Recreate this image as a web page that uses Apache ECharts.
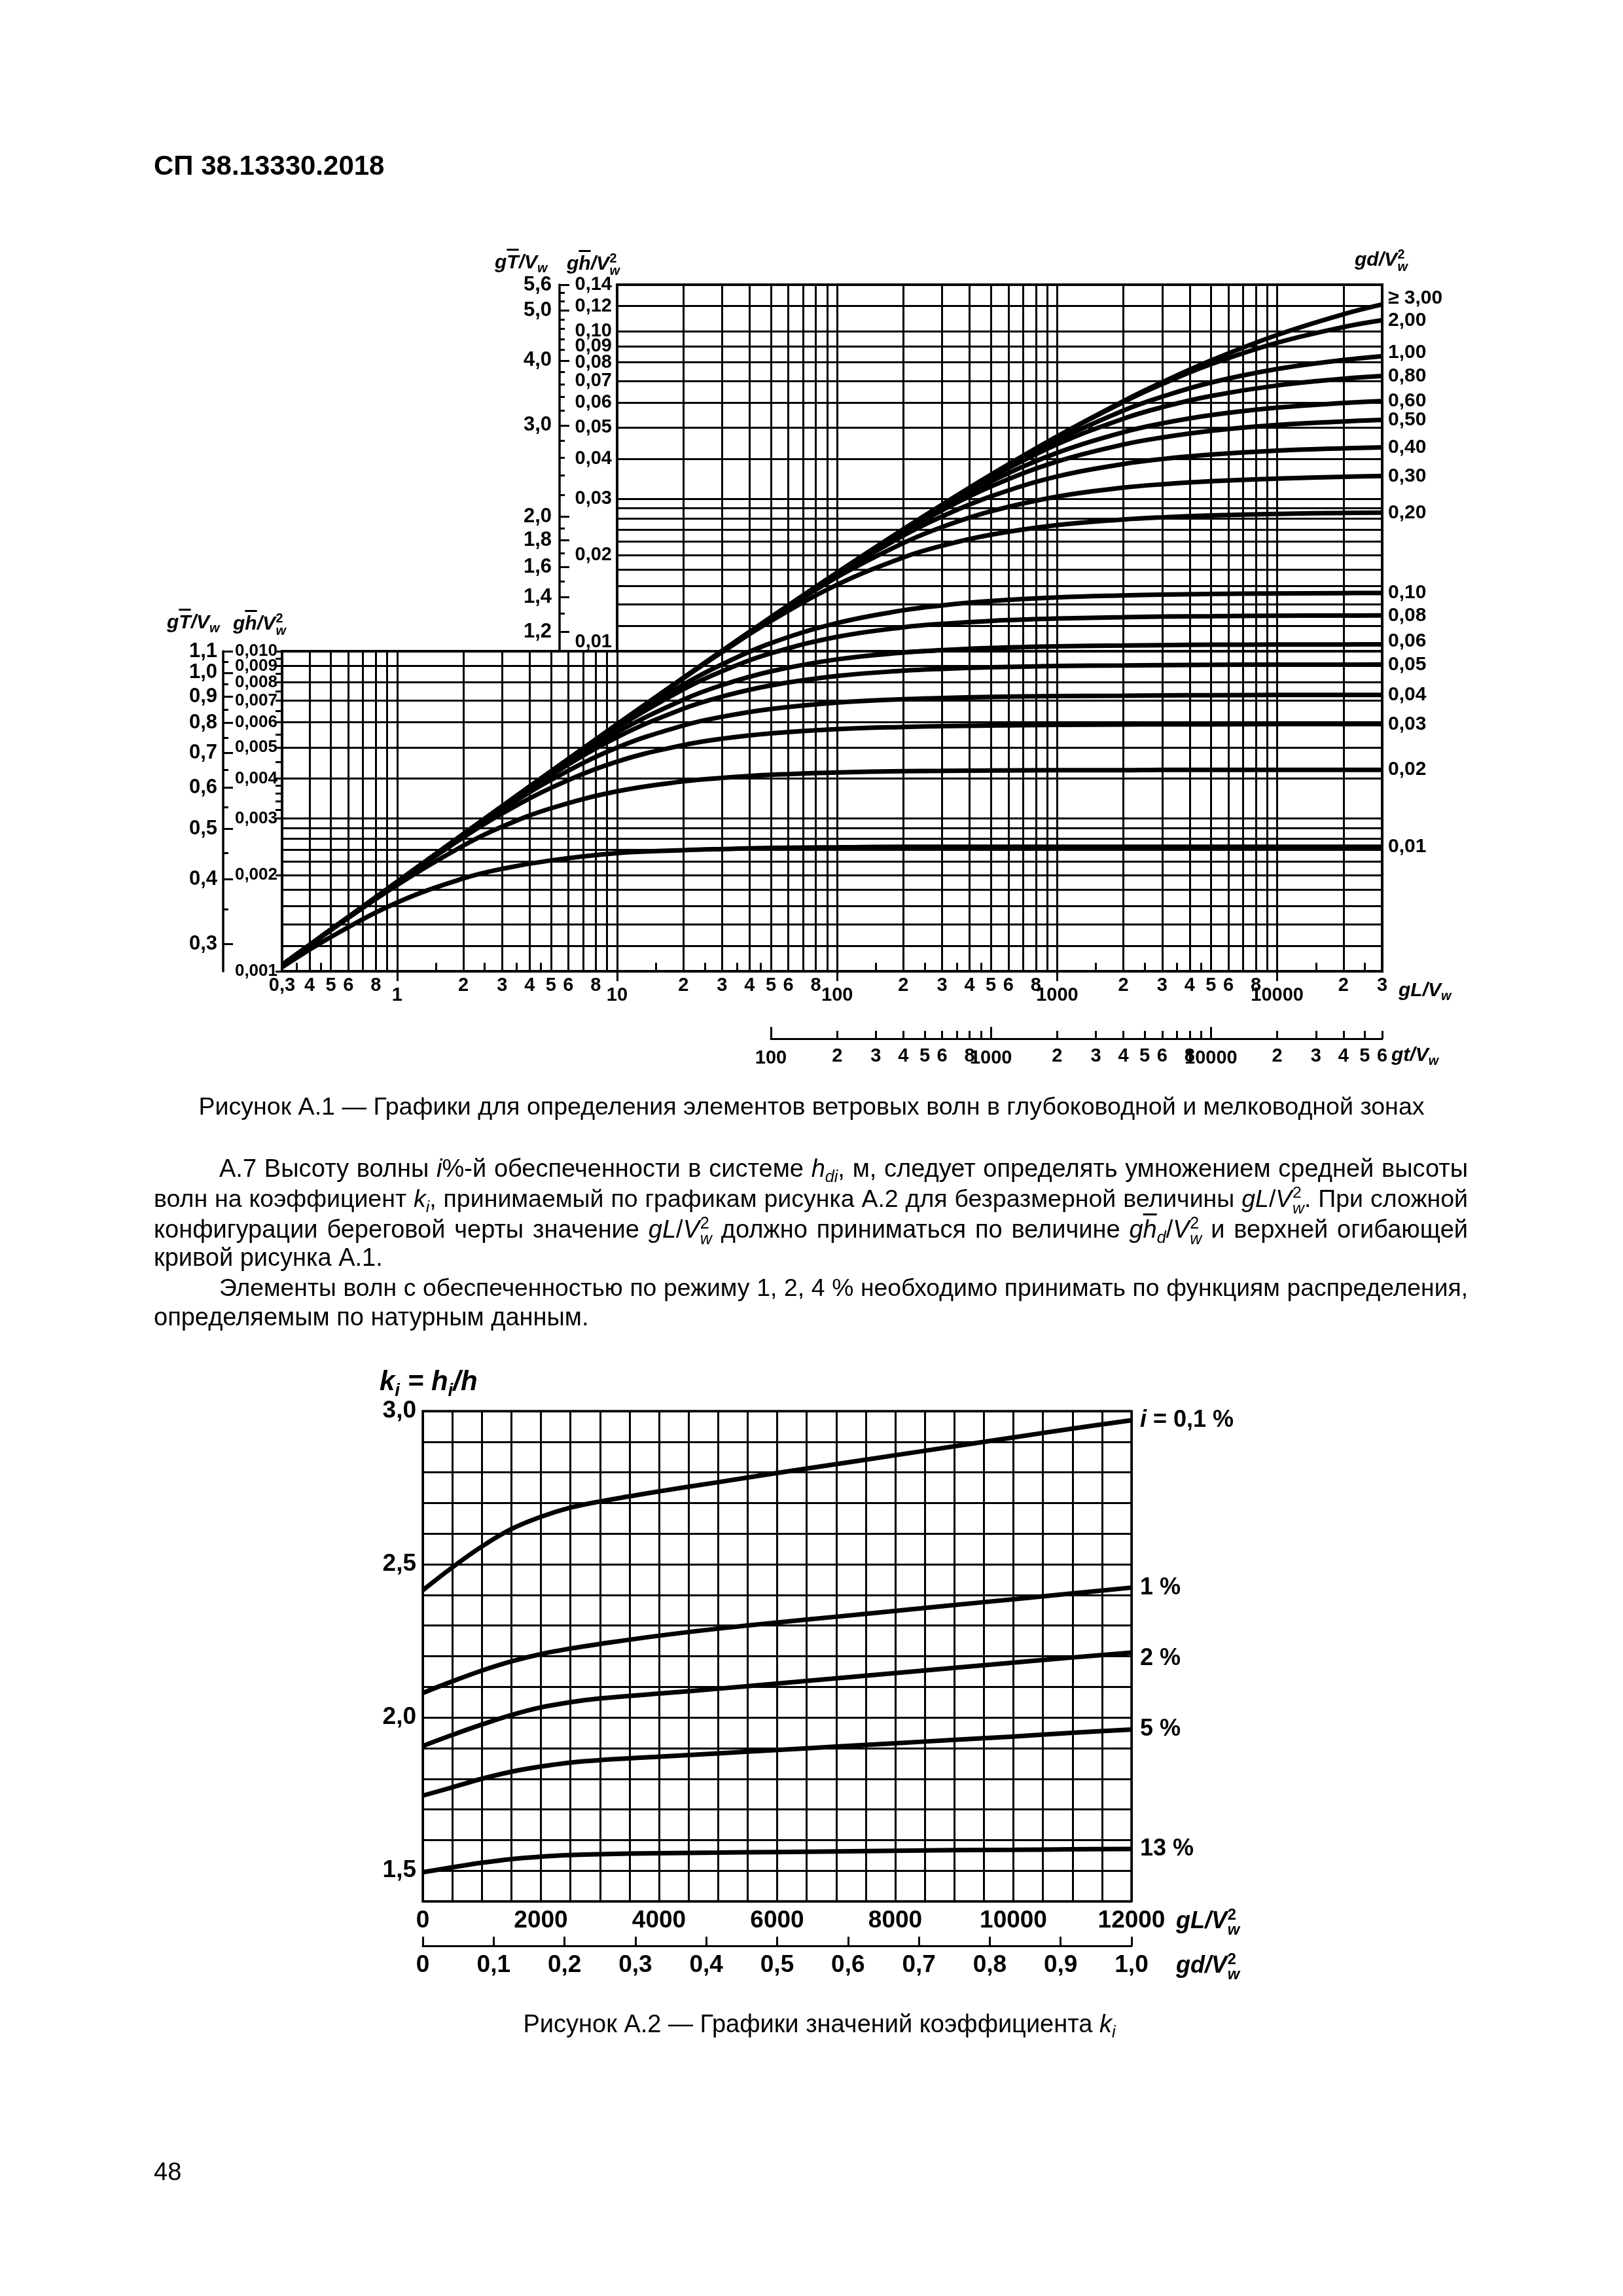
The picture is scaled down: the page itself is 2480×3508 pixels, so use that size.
<!DOCTYPE html>
<html><head><meta charset="utf-8">
<script src="https://cdn.jsdelivr.net/npm/echarts@6/dist/echarts.min.js"></script>
<style>
html,body{margin:0;padding:0;background:#fff;}
#page{position:relative;width:2480px;height:3508px;background:#fff;overflow:hidden;}
#chart{position:absolute;left:0;top:0;width:2480px;height:3508px;}
.t{position:absolute;white-space:nowrap;line-height:1;font-family:'Liberation Sans',Arial,Helvetica,sans-serif;color:#000;}
.ax{font-size:30px;font-weight:bold;font-style:italic;}
.ax2{font-size:36px;font-weight:bold;font-style:italic;}
.ov{text-decoration:overline;}
.stk{display:inline-flex;flex-direction:column;font-size:0.66em;line-height:0.95;vertical-align:0.55em;margin-left:0.03em;}
.stk span{display:block;}
.stk .n{font-style:normal;}
.sb{font-size:0.66em;vertical-align:-0.32em;}
.body{font-size:38px;}
.jl{position:absolute;line-height:1;font-family:'Liberation Sans',Arial,Helvetica,sans-serif;font-size:38px;text-align:justify;text-align-last:justify;color:#000;}
</style></head><body>
<div id="page">
<div id="chart"></div>

<div class="t" style="left:235px;top:232px;font-size:42px;font-weight:bold;">СП 38.13330.2018</div>

<div class="t ax" style="left:756px;top:385px;">g<span class="ov">T</span>/V<span class="sb">w</span></div>
<div class="t ax" style="left:866px;top:385px;">g<span class="ov">h</span>/V<span class="stk"><span class="n">2</span><span>w</span></span></div>
<div class="t ax" style="left:255px;top:935px;">g<span class="ov">T</span>/V<span class="sb">w</span></div>
<div class="t ax" style="left:356px;top:935px;">g<span class="ov">h</span>/V<span class="stk"><span class="n">2</span><span>w</span></span></div>
<div class="t ax" style="left:2070px;top:379px;">gd/V<span class="stk"><span class="n">2</span><span>w</span></span></div>
<div class="t ax" style="left:2137px;top:1497px;">gL/V<span class="sb">w</span></div>
<div class="t ax" style="left:2126px;top:1596px;">gt/V<span class="sb">w</span></div>

<div class="t" style="left:1240px;top:1672px;transform:translateX(-50%);font-size:37.6px;">Рисунок А.1 — Графики для определения элементов ветровых волн в глубоководной и мелководной зонах</div>

<div class="jl" style="left:335px;top:1766px;width:1908px;">А.7 Высоту волны <i>i</i>%-й обеспеченности в системе <i>h</i><span class="sb"><i>di</i></span>, м, следует определять умножением средней высоты</div>
<div class="jl" style="left:235px;top:1810px;width:2008px;">волн на коэффициент <i>k</i><span class="sb"><i>i</i></span>, принимаемый по графикам рисунка А.2 для безразмерной величины <i>gL</i>/<i>V</i><span class="stk"><span class="n">2</span><span><i>w</i></span></span>. При сложной</div>
<div class="jl" style="left:235px;top:1857px;width:2008px;">конфигурации береговой черты значение <i>gL</i>/<i>V</i><span class="stk"><span class="n">2</span><span><i>w</i></span></span> должно приниматься по величине <i>g<span class="ov">h</span></i><span class="sb"><i>d</i></span>/<i>V</i><span class="stk"><span class="n">2</span><span><i>w</i></span></span> и верхней огибающей</div>
<div class="t body" style="left:235px;top:1902px;">кривой рисунка А.1.</div>
<div class="jl" style="left:335px;top:1949px;width:1908px;">Элементы волн с обеспеченностью по режиму 1, 2, 4 % необходимо принимать по функциям распределения,</div>
<div class="t body" style="left:235px;top:1993px;">определяемым по натурным данным.</div>

<div class="t ax2" style="left:580px;top:2089px;font-size:42px;">k<span class="sb">i</span> = h<span class="sb">i</span>/h</div>
<div class="t ax2" style="left:1797px;top:2914px;">gL/V<span class="stk"><span class="n">2</span><span>w</span></span></div>
<div class="t ax2" style="left:1797px;top:2982px;">gd/V<span class="stk"><span class="n">2</span><span>w</span></span></div>

<div class="t body" style="left:1252px;top:3073px;transform:translateX(-50%);">Рисунок А.2 — Графики значений коэффициента <i>k</i><span class="sb"><i>i</i></span></div>
<div class="t body" style="left:235px;top:3299px;">48</div>
</div>

<script>
// keep each justified text line on one line (shrink the font a little if it would wrap)
document.querySelectorAll('.jl').forEach(function(el){
  let fs = 38;
  while (el.offsetHeight > fs * 1.6 && fs > 34) { fs -= 0.25; el.style.fontSize = fs + 'px'; }
});

// ================= Figure A.1 data =================
const gLPoints = [0.3, 0.5, 1, 2, 3, 5, 10, 20, 30, 50, 100, 200, 300, 500, 1000, 2000, 3000, 5000, 10000, 20000, 30000];

const gh_d300 = [0.001046,0.001349,0.001901,0.002682,0.003274,0.004208,0.005904,0.008253,0.01002,0.01276,0.0176,0.02405,0.02871,0.03562,0.04696,0.06054,0.06936,0.08113,0.0975,0.1132,0.1215];
const gh_d200 = [0.001046,0.001349,0.001901,0.002682,0.003274,0.004208,0.005904,0.008253,0.01002,0.01276,0.0176,0.02405,0.02871,0.03561,0.04691,0.06015,0.06845,0.07894,0.09217,0.1032,0.1084];
const gh_d100 = [0.001046,0.001349,0.001901,0.002682,0.003274,0.004208,0.005904,0.008253,0.01002,0.01276,0.0176,0.02404,0.02865,0.03536,0.04565,0.0566,0.0625,0.0692,0.0763,0.0814,0.0837];
const gh_d080 = [0.001046,0.001349,0.001901,0.002682,0.003274,0.004208,0.005904,0.008253,0.01002,0.01276,0.0176,0.0240,0.02854,0.03497,0.04437,0.05336,0.05795,0.06282,0.06779,0.07114,0.07252];
const gh_d060 = [0.001046,0.001349,0.001901,0.002682,0.003274,0.004208,0.005904,0.008253,0.01002,0.01276,0.01758,0.02386,0.02815,0.03395,0.04173,0.04841,0.05157,0.05473,0.05777,0.05974,0.06056];
const gh_d050 = [0.001046,0.001349,0.001901,0.002682,0.003274,0.004208,0.005904,0.008253,0.01002,0.01276,0.01755,0.02362,0.0276,0.03275,0.0392,0.0443,0.0466,0.0489,0.0510,0.0523,0.0529];
const gh_d040 = [0.001046,0.001349,0.001901,0.002682,0.003274,0.004208,0.005904,0.008253,0.01002,0.01274,0.0174,0.0230,0.0264,0.0305,0.0352,0.0385,0.0399,0.0412,0.0424,0.0431,0.0434];
const gh_d030 = [0.001046,0.001349,0.001901,0.002682,0.003274,0.004208,0.005904,0.008253,0.01001,0.01268,0.01705,0.0218,0.02446,0.0274,0.03045,0.03247,0.03327,0.0340,0.03466,0.0351,0.03531];
const gh_d020 = [0.001046,0.001349,0.001901,0.002682,0.003274,0.004208,0.005904,0.008232,0.009938,0.01243,0.01614,0.01965,0.02138,0.02314,0.0248,0.02583,0.02623,0.02658,0.02688,0.02706,0.02712];
const gh_d010 = [0.001046,0.001349,0.001901,0.002682,0.003274,0.004204,0.00584,0.00786,0.0091,0.0106,0.01225,0.01343,0.01391,0.01435,0.01473,0.01495,0.01503,0.0151,0.01516,0.0152,0.01521];
const gh_d008 = [0.001046,0.001349,0.001901,0.002682,0.003274,0.004193,0.00577,0.0076,0.00866,0.00985,0.01109,0.01188,0.01218,0.01244,0.01265,0.01277,0.01283,0.01287,0.01292,0.01293,0.01294];
const gh_d006 = [0.001046,0.001349,0.001901,0.00268,0.003263,0.004152,0.00558,0.00706,0.007838,0.008651,0.009433,0.009907,0.01008,0.01024,0.01036,0.01042,0.01045,0.01048,0.01049,0.0105,0.01051];
const gh_d005 = [0.001046,0.001349,0.001901,0.002676,0.003249,0.004098,0.005387,0.006615,0.007218,0.007819,0.008369,0.008691,0.00881,0.00891,0.00899,0.00903,0.00905,0.00907,0.00908,0.00908,0.00909];
const gh_d004 = [0.001046,0.001349,0.0019,0.00266,0.0032,0.00396,0.005,0.00586,0.00624,0.0066,0.00691,0.00708,0.00714,0.0072,0.00724,0.00726,0.00728,0.00729,0.0073,0.0073,0.0073];
const gh_d003 = [0.001046,0.001349,0.00189,0.00262,0.00311,0.00374,0.00452,0.00509,0.00533,0.00554,0.00571,0.0058,0.00583,0.00586,0.00589,0.0059,0.00591,0.00591,0.00592,0.00592,0.00592];
const gh_d002 = [0.001046,0.001345,0.00186,0.00247,0.00283,0.00323,0.00365,0.00392,0.00402,0.00411,0.00418,0.00422,0.00423,0.00424,0.00425,0.00425,0.00426,0.00426,0.00426,0.00426,0.00426];
const gh_d001 = [0.00103,0.00128,0.00164,0.00195,0.00209,0.00222,0.00234,0.00239,0.00241,0.00243,0.00244,0.00245,0.00245,0.00245,0.00245,0.00245,0.00245,0.00245,0.00245,0.00245,0.00245];

const depthLabels = ['≥ 3,00','2,00','1,00','0,80','0,60','0,50','0,40','0,30','0,20','0,10','0,08','0,06','0,05','0,04','0,03','0,02','0,01'];
const depthSeries = [gh_d300,gh_d200,gh_d100,gh_d080,gh_d060,gh_d050,gh_d040,gh_d030,gh_d020,gh_d010,gh_d008,gh_d006,gh_d005,gh_d004,gh_d003,gh_d002,gh_d001];

// axis tick / grid values (figure A.1)
const xGridLower = [0.4,0.5,0.6,0.7,0.8,0.9,1,2,3,4,5,6,7,8,9,10,20,30,40,50,60,70,80,90,100,200,300,400,500,600,700,800,900,1000,2000,3000,4000,5000,6000,7000,8000,9000,10000,20000];
const xGridUpper = [20,30,40,50,60,70,80,90,100,200,300,400,500,600,700,800,900,1000,2000,3000,4000,5000,6000,7000,8000,9000,10000,20000];
const xMinorTicks = [0.35,0.45,1.5,2.5,3.5,4.5,15,25,35,45,150,250,350,450,1500,2500,3500,4500,15000,25000];
const xLabelValues = [0.3,0.4,0.5,0.6,0.8,2,3,4,5,6,8,20,30,40,50,60,80,200,300,400,500,600,800,2000,3000,4000,5000,6000,8000,20000,30000];
const xLabelTexts  = ['0,3','4','5','6','8','2','3','4','5','6','8','2','3','4','5','6','8','2','3','4','5','6','8','2','3','4','5','6','8','2','3'];
const xDecadeValues = [1,10,100,1000,10000];
const xDecadeTexts = ['1','10','100','1000','10000'];

const gtTickValues = [200,300,400,500,600,700,800,900,2000,3000,4000,5000,6000,7000,8000,9000,20000,30000,40000,50000,60000];
const gtLabelValues = [200,300,400,500,600,800,2000,3000,4000,5000,6000,8000,20000,30000,40000,50000,60000];
const gtLabelTexts = ['2','3','4','5','6','8','2','3','4','5','6','8','2','3','4','5','6'];
const gtDecadeValues = [100,1000,10000];
const gtDecadeTexts = ['100','1000','10000'];

const yGridLower = [0.0012,0.0014,0.0016,0.0018,0.002,0.0022,0.0024,0.0026,0.0028,0.003,0.004,0.005,0.006,0.007,0.008,0.009];
const yTicksLower = [0.001,0.002,0.003,0.0032,0.0034,0.0036,0.0038,0.004,0.0045,0.005,0.0055,0.006,0.0065,0.007,0.0075,0.008,0.0085,0.009,0.0095,0.01];
const yLabelLowerValues = [0.001,0.002,0.003,0.004,0.005,0.006,0.007,0.008,0.01];
const yLabelLowerTexts = ['0,001','0,002','0,003','0,004','0,005','0,006','0,007','0,008','0,010'];
const yLabelLowerExtraValues = [0.009];
const yLabelLowerExtraTexts = ['0,009'];
const yGridUpper = [0.012,0.014,0.016,0.018,0.02,0.022,0.024,0.026,0.028,0.03,0.04,0.05,0.06,0.07,0.08,0.09,0.1,0.12];
const yLabelUpperValues = [0.02,0.03,0.04,0.05,0.06,0.07,0.08,0.09,0.1,0.12,0.14];
const yLabelUpperTexts = ['0,02','0,03','0,04','0,05','0,06','0,07','0,08','0,09','0,10','0,12','0,14'];

const gTLowerMajor = [1.1,1.0,0.9,0.8,0.7,0.6,0.5,0.4,0.3];
const gTLowerMajorTexts = ['1,1','1,0','0,9','0,8','0,7','0,6','0,5','0,4','0,3'];
const gTLowerMinor = [1.05,0.95,0.85,0.75,0.65,0.55,0.45,0.35];
const gTUpperMajor = [5.6,5.0,4.0,3.0,2.0,1.8,1.6,1.4,1.2];
const gTUpperMajorTexts = ['5,6','5,0','4,0','3,0','2,0','1,8','1,6','1,4','1,2'];
const gTUpperMinor = [5.4,5.2,4.8,4.6,4.4,4.2,3.8,3.6,3.4,3.2,2.8,2.6,2.4,2.2,1.9,1.7,1.5,1.3];

// ================= Figure A.2 data =================
const gLk = [0,500,1000,1500,2000,2500,3000,4000,5000,6000,7000,8000,9000,10000,11000,12000];
const k_01 = [2.415,2.49,2.558,2.615,2.655,2.685,2.705,2.738,2.768,2.798,2.827,2.856,2.885,2.914,2.943,2.97];
const k_1  = [2.08,2.118,2.153,2.183,2.207,2.225,2.24,2.267,2.29,2.31,2.329,2.348,2.367,2.386,2.405,2.424];
const k_2  = [1.907,1.943,1.977,2.008,2.033,2.05,2.062,2.078,2.094,2.111,2.128,2.145,2.162,2.179,2.196,2.212];
const k_5  = [1.745,1.772,1.80,1.823,1.84,1.853,1.861,1.872,1.883,1.894,1.905,1.916,1.927,1.938,1.95,1.961];
const k_13 = [1.495,1.511,1.526,1.538,1.546,1.551,1.554,1.557,1.559,1.561,1.563,1.565,1.567,1.568,1.57,1.571];
const kNames = ['{it|i} = 0,1 %','1 %','2 %','5 %','13 %'];
const kSeries = [k_01,k_1,k_2,k_5,k_13];

// ================= build chart =================
const K = '#000';
const FONT = "'Liberation Sans', Arial, Helvetica, sans-serif";
function lookup(vals, texts){
  return function(v){
    for (let i=0;i<vals.length;i++){ if (Math.abs(vals[i]-v) <= Math.abs(vals[i])*1e-6) return texts[i]; }
    return '';
  };
}
function lab(size, weight, extra){
  return Object.assign({color:K, fontFamily:FONT, fontSize:size, fontWeight:weight||'bold', showMinLabel:true, showMaxLabel:true, hideOverlap:false}, extra||{});
}
const off = {show:false};
const tickStyle = {color:K, width:3};

const xAxis = [
  {type:'log', logBase:10, gridIndex:0, min:0.3, max:30000, position:'bottom',
   axisLine:off, axisTick:{show:false, customValues:xGridLower},
   splitLine:{show:true, lineStyle:{color:K, width:3}},
   axisLabel:lab(29,'bold',{customValues:xLabelValues, formatter:lookup(xLabelValues,xLabelTexts), margin:7})},
  {type:'log', logBase:10, gridIndex:0, min:0.3, max:30000, position:'bottom',
   axisLine:off, axisTick:{show:true, customValues:xDecadeValues, length:15, inside:false, lineStyle:tickStyle},
   splitLine:off, axisLabel:lab(29,'bold',{customValues:xDecadeValues, formatter:lookup(xDecadeValues,xDecadeTexts), margin:22})},
  {type:'log', logBase:10, gridIndex:0, min:0.3, max:30000, position:'bottom',
   axisLine:off, axisTick:{show:true, customValues:xMinorTicks, length:13, inside:true, lineStyle:tickStyle},
   splitLine:off, axisLabel:off},
  {type:'log', logBase:10, gridIndex:1, min:10, max:30000, position:'bottom',
   axisLine:off, axisTick:{show:false, customValues:xGridUpper},
   splitLine:{show:true, lineStyle:{color:K, width:3}}, axisLabel:off},
  {type:'log', logBase:10, gridIndex:2, min:100, max:60000, position:'bottom',
   axisLine:{show:true, lineStyle:{color:K, width:3}},
   axisTick:{show:true, customValues:gtTickValues, length:12, inside:true, lineStyle:tickStyle},
   splitLine:off, axisLabel:lab(29,'bold',{customValues:gtLabelValues, formatter:lookup(gtLabelValues,gtLabelTexts), margin:12})},
  {type:'log', logBase:10, gridIndex:2, min:100, max:60000, position:'bottom',
   axisLine:off, axisTick:{show:true, customValues:gtDecadeValues, length:18, inside:true, lineStyle:tickStyle},
   splitLine:off, axisLabel:lab(29,'bold',{customValues:gtDecadeValues, formatter:lookup(gtDecadeValues,gtDecadeTexts), margin:15})},
  {type:'value', gridIndex:3, min:0, max:12000, interval:500, position:'bottom',
   axisLine:off, axisTick:off, splitLine:{show:true, lineStyle:{color:K, width:3}},
   axisLabel:lab(37,'bold',{margin:11, formatter:function(v){return (Math.round(v)%2000===0)?String(Math.round(v)):'';}})},
  {type:'value', gridIndex:3, min:0, max:1, interval:0.1, position:'bottom', offset:68,
   axisLine:{show:true, lineStyle:{color:K, width:3}},
   axisTick:{show:true, inside:true, length:14, lineStyle:tickStyle}, splitLine:off,
   axisLabel:lab(37,'bold',{margin:11, formatter:function(v){const r=Math.round(v*10); return r===0?'0':(r/10).toFixed(1).replace('.',',');}})}
];

const yAxis = [
  {type:'log', logBase:10, gridIndex:0, min:0.001, max:0.01, position:'left',
   axisLine:off, axisTick:{show:false, customValues:yGridLower},
   splitLine:{show:true, lineStyle:{color:K, width:3}},
   axisLabel:lab(26,'bold',{customValues:yLabelLowerValues, formatter:lookup(yLabelLowerValues,yLabelLowerTexts), margin:7})},
  {type:'log', logBase:10, gridIndex:0, min:0.001, max:0.01, position:'left',
   axisLine:off, axisTick:{show:true, customValues:yTicksLower, length:10, inside:false, lineStyle:tickStyle},
   splitLine:off, axisLabel:off},
  {type:'log', logBase:10, gridIndex:0, min:0.2659, max:1.1, position:'left', offset:90,
   axisLine:{show:true, lineStyle:{color:K, width:3.5}},
   axisTick:{show:true, customValues:gTLowerMajor, length:15, inside:true, lineStyle:tickStyle},
   splitLine:off, axisLabel:lab(31,'bold',{customValues:gTLowerMajor, formatter:lookup(gTLowerMajor,gTLowerMajorTexts), margin:9})},
  {type:'log', logBase:10, gridIndex:0, min:0.2659, max:1.1, position:'left', offset:90,
   axisLine:off, axisTick:{show:true, customValues:gTLowerMinor, length:8, inside:true, lineStyle:tickStyle},
   splitLine:off, axisLabel:off},
  {type:'log', logBase:10, gridIndex:1, min:0.01, max:0.14, position:'left',
   axisLine:off, axisTick:{show:false, customValues:yGridUpper},
   splitLine:{show:true, lineStyle:{color:K, width:3}},
   axisLabel:lab(29,'bold',{customValues:yLabelUpperValues, formatter:lookup(yLabelUpperValues,yLabelUpperTexts), margin:8})},
  {type:'log', logBase:10, gridIndex:1, min:0.01, max:0.14, position:'left',
   axisLine:off, axisTick:off, splitLine:off,
   axisLabel:lab(29,'bold',{customValues:[0.01], formatter:function(){return '0,01';}, margin:8, verticalAlign:'bottom'})},
  {type:'log', logBase:10, gridIndex:1, min:1.1, max:5.6, position:'left', offset:88,
   axisLine:{show:true, lineStyle:{color:K, width:3.5}},
   axisTick:{show:true, customValues:gTUpperMajor, length:15, inside:true, lineStyle:tickStyle},
   splitLine:off, axisLabel:lab(31,'bold',{customValues:gTUpperMajor, formatter:lookup(gTUpperMajor,gTUpperMajorTexts), margin:12})},
  {type:'log', logBase:10, gridIndex:1, min:1.1, max:5.6, position:'left', offset:88,
   axisLine:off, axisTick:{show:true, customValues:gTUpperMinor, length:8, inside:true, lineStyle:tickStyle},
   splitLine:off, axisLabel:off},
  {type:'value', gridIndex:3, min:1.4, max:3.0, interval:0.1, position:'left',
   axisLine:off, axisTick:off, splitLine:{show:true, lineStyle:{color:K, width:3}},
   axisLabel:lab(37,'bold',{margin:10, formatter:function(v){const r=Math.round(v*10); return (r%5===0)?(r/10).toFixed(1).replace('.',','):'';}})},
  {type:'value', gridIndex:2, show:false},
  {type:'log', logBase:10, gridIndex:0, min:0.001, max:0.01, position:'left',
   axisLine:off, axisTick:off, splitLine:off,
   axisLabel:lab(26,'bold',{customValues:yLabelLowerExtraValues, formatter:lookup(yLabelLowerExtraValues,yLabelLowerExtraTexts), margin:7})}
];

const labelNudge = {'≥ 3,00':-9, '1,00':-5, '0,06':-5, '2 %':9};

const series = [];
depthSeries.forEach(function(vals, i){
  const name = depthLabels[i];
  const data = gLPoints.map(function(x, j){ return [x, vals[j]]; });
  const endInUpper = vals[vals.length-1] >= 0.01;
  const mk = function(xi, yi, showEnd){
    return {type:'line', name:name, xAxisIndex:xi, yAxisIndex:yi, data:data,
      smooth:0.4, symbol:'none', clip:true, silent:true, animation:false, z:5,
      lineStyle:{color:K, width:7}, emphasis:{disabled:true},
      endLabel:{show:showEnd, formatter:'{a}', distance:9, offset:[0, labelNudge[name]||0],
        color:K, fontFamily:FONT, fontSize:30, fontWeight:'bold'}};
  };
  series.push(mk(0, 0, !endInUpper));
  series.push(mk(3, 4, endInUpper));
});
kSeries.forEach(function(vals, i){
  const name = kNames[i];
  series.push({type:'line', name:name, xAxisIndex:6, yAxisIndex:8,
    data:gLk.map(function(x, j){ return [x, vals[j]]; }),
    smooth:0.4, symbol:'none', silent:true, animation:false, z:5,
    lineStyle:{color:K, width:7}, emphasis:{disabled:true},
    endLabel:{show:true, formatter:'{a}', distance:13, offset:[0, labelNudge[name]||0],
      color:K, fontFamily:FONT, fontSize:36, fontWeight:'bold',
      rich:{it:{fontStyle:'italic', fontWeight:'bold', fontFamily:FONT, fontSize:36, color:K}}}
  });
});

const option = {
  backgroundColor:'transparent',
  animation:false,
  textStyle:{fontFamily:FONT, color:K},
  grid:[
    {left:431, top:995, width:1681, height:489, show:true, borderColor:K, borderWidth:4, backgroundColor:'transparent', containLabel:false, outerBoundsMode:'none'},
    {left:943, top:435, width:1169, height:560, show:true, borderColor:K, borderWidth:4, backgroundColor:'transparent', containLabel:false, outerBoundsMode:'none'},
    {left:1178, top:1580, width:934, height:7, show:false, containLabel:false, outerBoundsMode:'none'},
    {left:646, top:2156, width:1083, height:749, show:true, borderColor:K, borderWidth:3.5, backgroundColor:'transparent', containLabel:false, outerBoundsMode:'none'}
  ],
  xAxis:xAxis,
  yAxis:yAxis,
  series:series
};

const chart = echarts.init(document.getElementById('chart'), null, {renderer:'canvas', width:2480, height:3508});
chart.setOption(option);
</script>
</body></html>
